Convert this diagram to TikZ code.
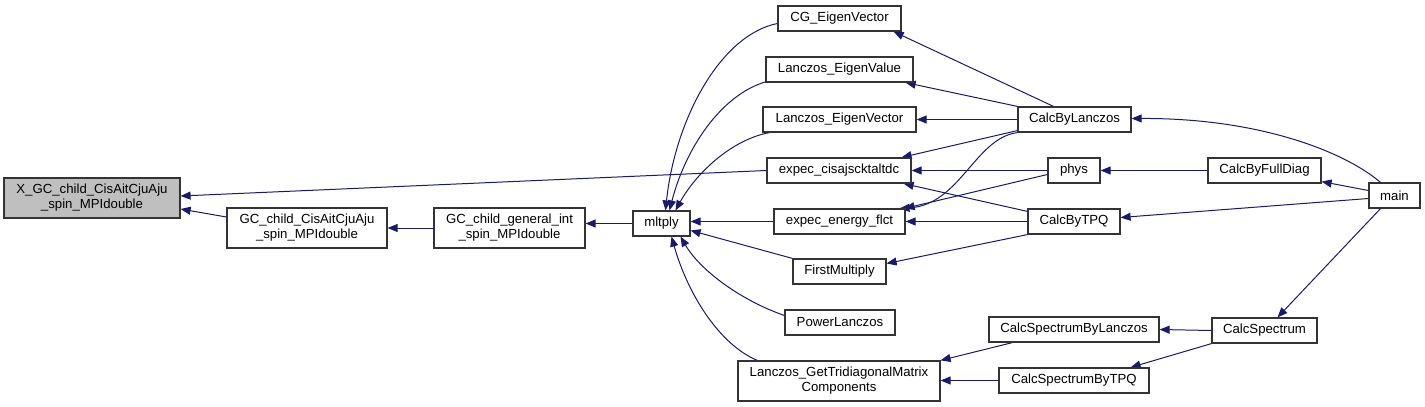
\documentclass[tikz,border=0pt]{standalone}
\usepackage{fontspec}
\setmainfont{Liberation Sans}
\usetikzlibrary{arrows.meta,calc,backgrounds}
\definecolor{edgecol}{HTML}{191970}
\definecolor{nodegray}{HTML}{BFBFBF}
\begin{document}
\begin{tikzpicture}[x=0.75pt,y=-0.75pt,
  box/.style={draw=black!80, line width=0.9pt, inner sep=0pt, align=center,
    font=\fontsize{9.9}{11.3}\selectfont, minimum height=25*0.75pt, fill=white},
  tall/.style={minimum height=40*0.75pt},
  wd/.style={minimum width=#1*0.75pt},
  edge/.style={draw=edgecol, line width=0.75pt, -{Triangle[length=7.5pt,width=6pt]}}]
\useasboundingbox (0,0) rectangle (1425,407);

% nodes
\node[box,tall,wd=176,fill=nodegray] (X) at (92,198) {X\_GC\_child\_CisAitCjuAju\\\_spin\_MPIdouble};
\node[box,tall,wd=160] (GCC) at (307,228) {GC\_child\_CisAitCjuAju\\\_spin\_MPIdouble};
\node[box,tall,wd=151] (GCG) at (509.5,228) {GC\_child\_general\_int\\\_spin\_MPIdouble};
\node[box,wd=57] (mlt) at (661.5,223.5) {mltply};
\node[box,wd=123] (CGE) at (839.5,18.5) {CG\_EigenVector};
\node[box,wd=147] (LEVa) at (839.5,69.5) {Lanczos\_EigenValue};
\node[box,wd=153] (LEVe) at (839.5,119.5) {Lanczos\_EigenVector};
\node[box,wd=144] (ECI) at (839,170.5) {expec\_cisajscktaltdc};
\node[box,wd=131] (EEF) at (839.5,221.5) {expec\_energy\_flct};
\node[box,wd=93] (FM) at (839.5,271.5) {FirstMultiply};
\node[box,wd=110] (PL) at (840,322.5) {PowerLanczos};
\node[box,tall,wd=202] (LGT) at (839,381) {Lanczos\_GetTridiagonalMatrix\\Components};
\node[box,wd=113] (CBL) at (1074.5,119.5) {CalcByLanczos};
\node[box,wd=52] (phys) at (1074,170.5) {phys};
\node[box,wd=92] (CBT) at (1074,221.5) {CalcByTPQ};
\node[box,wd=170] (CSL) at (1074,329.5) {CalcSpectrumByLanczos};
\node[box,wd=150] (CST) at (1074,380.5) {CalcSpectrumByTPQ};
\node[box,wd=113] (CBF) at (1264.5,170.5) {CalcByFullDiag};
\node[box,wd=105] (CS) at (1264.5,330.5) {CalcSpectrum};
\node[box,wd=51] (main) at (1394.5,195.5) {main};

% edges
\begin{pgfonlayer}{background}
\draw[edge] (ECI.west) -- ($(X.east)+(0,-2)$);
\draw[edge] ($(GCC.west)+(0,-11)$) -- ($(X.east)+(0,11)$);
\draw[edge] (GCG.west) -- (GCC.east);
\draw[edge] (mlt.west) -- (mlt.west -| GCG.east);
\draw[edge] ($(CGE.west)+(0,5)$) .. controls (720,35) and (675,120) .. ($(mlt.north)+(4,0)$);
\draw[edge] ($(LEVa.south west)+(1,-1)$) .. controls (720,95) and (685,150) .. ($(mlt.north)+(8,0)$);
\draw[edge] ($(LEVe.south west)+(7,0)$) .. controls (730,140) and (695,175) .. ($(mlt.north)+(14,0)$);
\draw[edge] (EEF.west) -- (EEF.west -| mlt.east);
\draw[edge] (FM.north west) -- ($(mlt.east)+(0,7)$);
\draw[edge] ($(PL.west)+(0,-7)$) .. controls (740,300) and (700,270) .. ($(mlt.south)+(19,0)$);
\draw[edge] ($(LGT.north west)+(20,0)$) .. controls (720,345) and (688,295) .. ($(mlt.south)+(10,0)$);
\draw[edge] ($(CBL.north)+(-21,0)$) -- ($(CGE.south east)+(-8,0)$);
\draw[edge] (CBL.north west) -- ($(LEVa.south east)+(-8,0)$);
\draw[edge] (CBL.west) -- (LEVe.east);
\draw[edge] ($(CBL.south west)+(0,-2)$) -- ($(ECI.north east)+(-10,0)$);
\draw[edge] (CBL.south west) .. controls (975,138) and (960,205) .. ($(EEF.north east)+(-6,0)$);
\draw[edge] (phys.west) -- (ECI.east);
\draw[edge] ($(phys.west)+(0,4)$) -- ($(EEF.north east)+(-1,0)$);
\draw[edge] ($(CBT.north west)+(0,3)$) -- ($(ECI.south east)+(-8,0)$);
\draw[edge] (CBT.west) -- (CBT.west -| EEF.east);
\draw[edge] (CBT.south west) -- ($(FM.east)+(0,-8)$);
\draw[edge] (CBF.west) -- (phys.east);
\draw[edge] ($(main.north)+(-14,0)$) .. controls (1345,152) and (1260,118) .. ($(CBL.east)+(0,-1)$);
\draw[edge] ($(main.west)+(0,-5)$) -- ($(CBF.south east)+(0,-2)$);
\draw[edge] ($(main.west)+(0,3)$) -- ($(CBT.east)+(0,-4)$);
\draw[edge] ($(main.south)+(-14,0)$) -- ($(CS.north)+(13,0)$);
\draw[edge] (CS.west) -- (CSL.east);
\draw[edge] (CS.south west) -- ($(CST.north east)+(-19,0)$);
\draw[edge] ($(CSL.south west)+(24,0)$) -- (LGT.north east);
\draw[edge] (CST.west) -- (CST.west -| LGT.east);
\end{pgfonlayer}
\end{tikzpicture}
\end{document}
